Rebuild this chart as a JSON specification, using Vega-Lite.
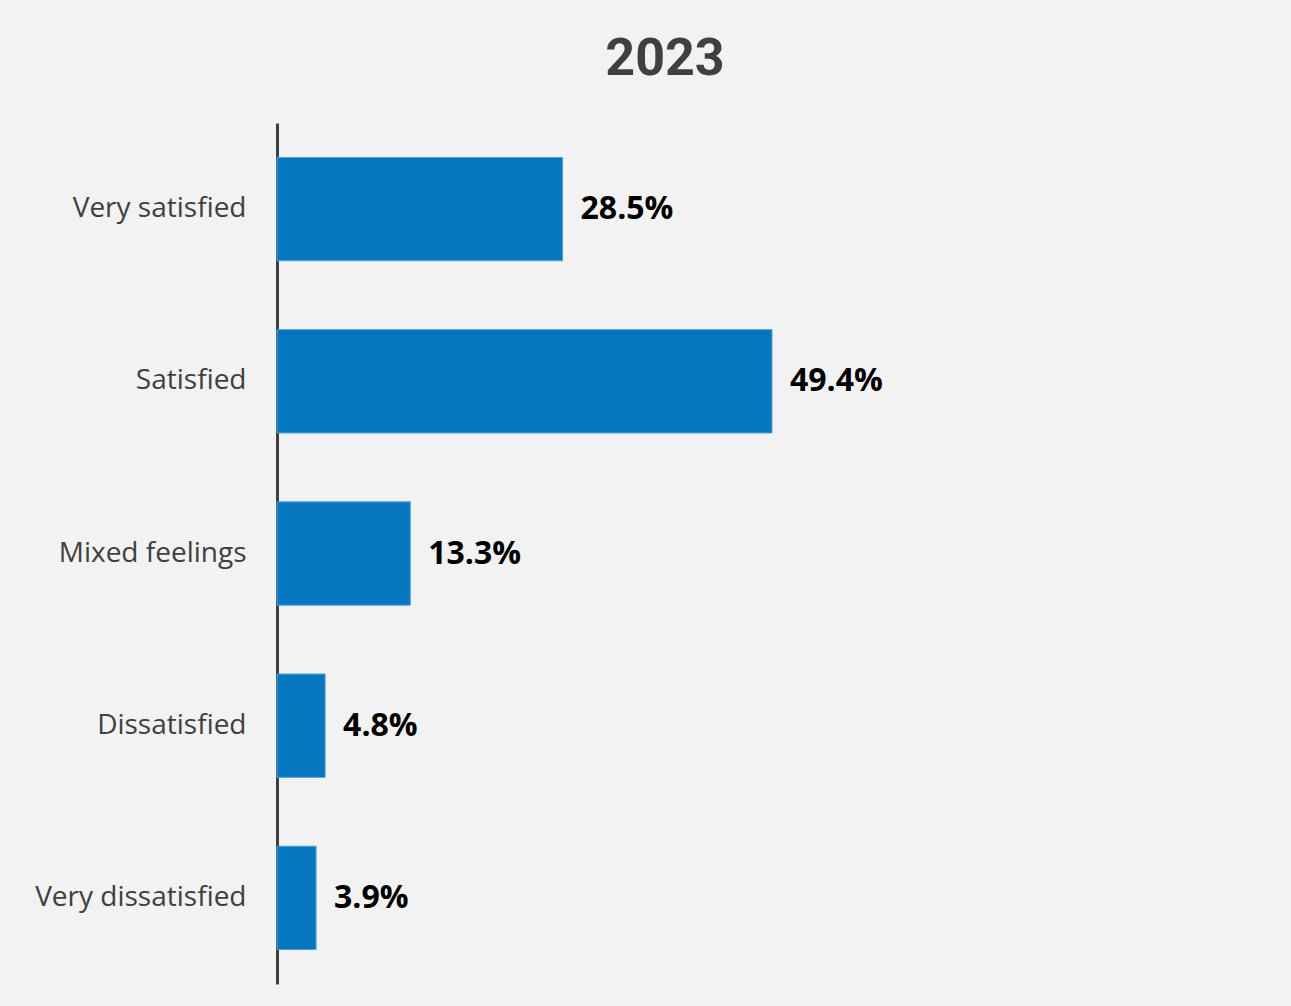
{
  "$schema": "https://vega.github.io/schema/vega-lite/v6.json",
  "width": 1002,
  "height": 861,
  "padding": {"left": 34, "top": 33, "right": 13, "bottom": 29},
  "background": "#f2f2f2",
  "title": {
    "text": "2023",
    "font": "Roboto",
    "fontSize": 52,
    "fontWeight": "bold",
    "color": "#404040",
    "anchor": "middle",
    "dx": -113,
    "offset": 37
  },
  "data": {
    "values": [
      {"category": "Very satisfied", "share": 0.285},
      {"category": "Satisfied", "share": 0.494},
      {"category": "Mixed feelings", "share": 0.133},
      {"category": "Dissatisfied", "share": 0.048},
      {"category": "Very dissatisfied", "share": 0.039}
    ]
  },
  "encoding": {
    "y": {
      "field": "category",
      "type": "nominal",
      "sort": null,
      "scale": {"paddingInner": 0.4, "paddingOuter": 0.2},
      "axis": {
        "title": null,
        "ticks": false,
        "grid": false,
        "domainColor": "#404040",
        "domainWidth": 3,
        "labelFont": "Open Sans",
        "labelFontSize": 28,
        "labelColor": "#404040",
        "labelPadding": 31,
        "labelLimit": 400
      }
    },
    "x": {
      "field": "share",
      "type": "quantitative",
      "scale": {"domain": [0, 1]},
      "axis": null
    }
  },
  "layer": [
    {
      "mark": {"type": "bar", "color": "#0677bf", "stroke": "#4f9fd8", "strokeWidth": 1}
    },
    {
      "mark": {
        "type": "text",
        "align": "left",
        "baseline": "middle",
        "dx": 18,
        "font": "Open Sans",
        "fontSize": 32,
        "fontWeight": "bold",
        "color": "#000000"
      },
      "encoding": {
        "text": {"field": "share", "type": "quantitative", "format": ".1%"}
      }
    }
  ],
  "config": {
    "view": {"stroke": null}
  }
}
